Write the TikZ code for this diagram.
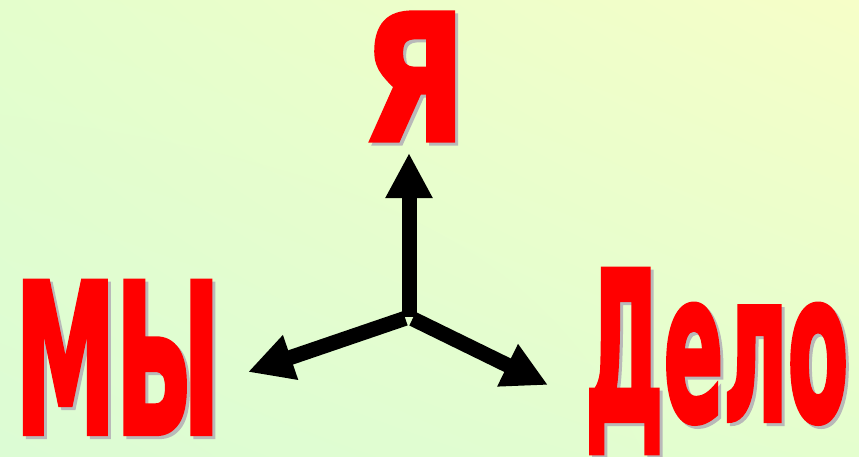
\documentclass[tikz,border=0pt]{standalone}
\usepackage{fontspec}
\usepackage{graphicx}
\usetikzlibrary{arrows.meta,shadings}
\newfontfamily\headfont{DejaVu Sans}[BoldFeatures={FakeBold=3}]

\definecolor{bgTL}{RGB}{228,254,204}
\definecolor{bgTR}{RGB}{246,254,200}
\definecolor{bgBL}{RGB}{220,252,212}
\definecolor{bgBR}{RGB}{228,254,206}
\definecolor{wordred}{RGB}{255,0,0}
\definecolor{wordshade}{RGB}{185,185,185}

\tikzset{
  word/.style={anchor=base west, inner sep=0pt, text=wordred, font=\headfont\bfseries},
  wordshadow/.style={word, text=wordshade},
  pointer/.style={line width=15pt, -{Triangle[length=45pt,width=44pt]}}
}

\begin{document}
\begin{tikzpicture}[x=1pt, y=-1pt]
  \useasboundingbox (0,0) rectangle (859,456);
  \shade[upper left=bgTL, upper right=bgTR, lower left=bgBL, lower right=bgBR]
    (0,0) rectangle (859,456);

  % words, shadow first
  \node[wordshadow] (ya-s)   at (366,143) {\resizebox{102pt}{127pt}{Я}};
  \node[wordshadow] (my-s)   at (18,436)  {\resizebox{205pt}{151pt}{МЫ}};
  \node[wordshadow] (delo-s) at (588,423) {\resizebox{263pt}{150pt}{Дело}};

  \node[word] (ya)   at (363,140) {\resizebox{102pt}{127pt}{Я}};
  \node[word] (my)   at (15,433)  {\resizebox{205pt}{151pt}{МЫ}};
  \node[word] (delo) at (585,420) {\resizebox{263pt}{150pt}{Дело}};

  % arrows
  \coordinate (o) at (409,317);
  \coordinate (tipya) at (409,153);
  \coordinate (tipmy) at (248,372);
  \coordinate (tipdelo) at (548,385);

  \draw[pointer] (o) -- (tipya);
  \draw[pointer, shorten <=4pt] (o) -- (tipmy);
  \draw[pointer, shorten <=4pt] (o) -- (tipdelo);
\end{tikzpicture}
\end{document}
